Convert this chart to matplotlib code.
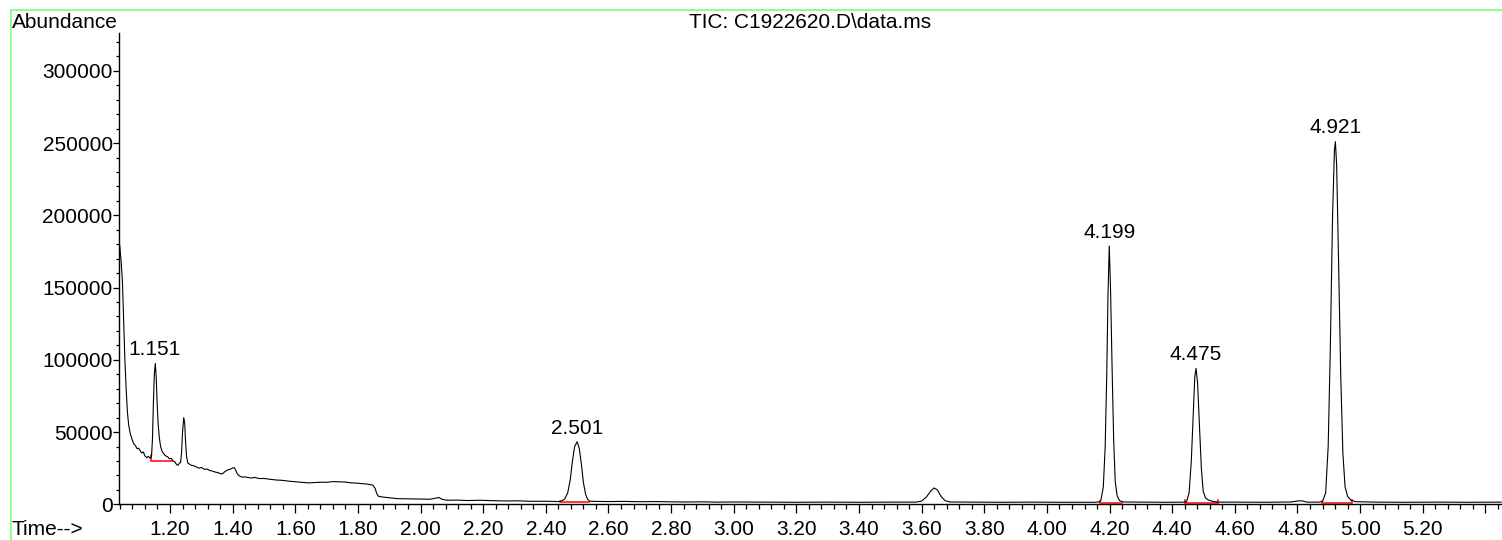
import numpy as np
import matplotlib
matplotlib.use("Agg")
import matplotlib.pyplot as plt
from matplotlib.lines import Line2D
from matplotlib.ticker import MultipleLocator, FixedLocator, FixedFormatter

plt.rcParams['font.family'] = ['Liberation Sans', 'DejaVu Sans']

# --- TIC trace, read segment by segment (time in min, abundance) ---
# solvent tail, 1.151 and the small peak at 1.245, drifting background
t_front = [1.037, 1.040, 1.044, 1.048, 1.052, 1.056, 1.060, 1.064, 1.068, 1.073,
           1.078, 1.084, 1.090, 1.095, 1.100, 1.105, 1.110, 1.115, 1.120, 1.126,
           1.131, 1.137, 1.141, 1.144, 1.147, 1.150, 1.153, 1.156, 1.159, 1.162,
           1.166, 1.170, 1.175, 1.180, 1.186, 1.192, 1.198, 1.204, 1.210, 1.216,
           1.221, 1.226, 1.230, 1.234, 1.237, 1.240, 1.244, 1.247, 1.250, 1.253,
           1.257, 1.262, 1.268, 1.275, 1.284, 1.292, 1.300, 1.310, 1.318, 1.326,
           1.335, 1.345, 1.355, 1.362, 1.369, 1.375, 1.384, 1.392, 1.400, 1.405,
           1.410, 1.415, 1.422, 1.430, 1.440, 1.450, 1.460, 1.470, 1.485, 1.500,
           1.520, 1.540, 1.558, 1.580, 1.600, 1.620, 1.643, 1.660, 1.680, 1.700,
           1.720, 1.738, 1.760, 1.780, 1.800, 1.812, 1.830, 1.848, 1.855, 1.860,
           1.866, 1.880, 1.900, 1.927, 1.960, 2.000, 2.030, 2.050, 2.059, 2.068,
           2.085, 2.120, 2.150, 2.190, 2.230, 2.270, 2.310, 2.350, 2.400, 2.440]
a_front = [183000, 178000, 168000, 155000, 128000, 100000, 80000, 64000, 55000, 49000,
           45500, 42000, 40500, 38500, 38800, 37000, 35500, 36200, 33500, 32300,
           33200, 31800, 33000, 45000, 70000, 90000, 97500, 88000, 70000, 56000,
           46000, 40000, 36500, 35000, 33500, 33000, 31500, 31800, 30000, 29300,
           27500, 27000, 28500, 29000, 36000, 50000, 60000, 56000, 42000, 33000,
           28500, 27800, 27000, 26800, 25900, 25000, 25500, 24200, 24400, 23500,
           23000, 22300, 21800, 21000, 21300, 22600, 23800, 24200, 25200, 25400,
           23500, 21000, 19600, 18800, 19000, 18500, 18200, 18600, 17800, 17900,
           17300, 16800, 16600, 16000, 15600, 15200, 14800, 15000, 15300, 15200,
           15700, 15600, 15400, 14800, 14600, 14300, 14000, 13200, 11000, 7500,
           5500, 5000, 4500, 3900, 3800, 3600, 3500, 4300, 4700, 3500,
           2800, 2900, 2600, 2800, 2500, 2300, 2400, 2100, 2100, 1900]

# 2.501 and the unlabelled bump near 3.64
t_mid = [2.448, 2.460, 2.470, 2.478, 2.485, 2.492, 2.500, 2.507, 2.514, 2.520,
         2.527, 2.533, 2.540, 2.560, 2.600, 2.650, 2.700, 2.750, 2.800, 2.850,
         2.900, 2.950, 3.000, 3.100, 3.200, 3.300, 3.400, 3.500, 3.580, 3.600,
         3.615, 3.630, 3.640, 3.650, 3.662, 3.675, 3.690, 3.750, 3.850, 3.950,
         4.050, 4.150, 4.165]
a_mid = [2100, 3500, 8000, 17000, 30000, 40000, 43300, 38500, 27000, 15000,
         7000, 3500, 2200, 2000, 1900, 2000, 1800, 1900, 1700, 1600,
         1700, 1500, 1600, 1500, 1400, 1500, 1400, 1500, 1500, 2200,
         5000, 9500, 11300, 10000, 5500, 2500, 1600, 1500, 1400, 1500,
         1400, 1400, 1600]

# 4.199, 4.475 and 4.921
t_late = [4.172, 4.180, 4.186, 4.191, 4.195, 4.199, 4.203, 4.208, 4.213, 4.218,
          4.224, 4.232, 4.245, 4.300, 4.380, 4.440,
          4.446, 4.454, 4.461, 4.467, 4.472, 4.476, 4.481, 4.487, 4.493, 4.499,
          4.506, 4.515, 4.530, 4.550, 4.600, 4.700, 4.780, 4.800, 4.815, 4.830,
          4.870,
          4.880, 4.890, 4.898, 4.905, 4.912, 4.918, 4.921, 4.925, 4.931, 4.938,
          4.945, 4.952, 4.960, 4.970, 4.985, 5.050, 5.150, 5.250, 5.350, 5.450]
a_late = [2500, 12000, 40000, 90000, 145000, 178800, 150000, 95000, 45000, 16000,
          6000, 2500, 1600, 1500, 1400, 1500,
          2000, 8000, 30000, 62000, 88000, 94100, 84000, 55000, 25000, 9000,
          4500, 3000, 2000, 1500, 1500, 1400, 1600, 2300, 2400, 1500,
          1500,
          2000, 8000, 40000, 110000, 200000, 245000, 251000, 235000, 170000, 90000,
          35000, 12000, 5500, 3000, 1800, 1500, 1400, 1500, 1400, 1500]

# labelled peaks: retention time, apex abundance
peak_rt = [1.151, 2.501, 4.199, 4.475, 4.921]
peak_top = [97500, 43300, 178800, 94100, 251000]

# integration baselines: start, end, level, height of the start/end marks
base_start = [1.139, 2.446, 4.168, 4.441, 4.877]
base_end = [1.206, 2.537, 4.240, 4.547, 4.975]
base_level = [30200, 1400, 1200, 1200, 1200]
base_mark_l = [3700, 1000, 1000, 1500, 1200]
base_mark_r = [0, 0, 0, 1500, 2000]

time = np.concatenate([t_front, t_mid, t_late])
abund = np.concatenate([a_front, a_mid, a_late])

fig = plt.figure(figsize=(15.02, 5.40), dpi=100)
ax = fig.add_axes([119 / 1502, 35.7 / 540, 1 - 119 / 1502, (504.3 - 33.3) / 540])

for s, e, lv, ml, mr in zip(base_start, base_end, base_level, base_mark_l, base_mark_r):
    ax.plot([s, s, e, e], [lv + ml, lv, lv, lv + mr], color='#ff0000', lw=1.1,
            solid_joinstyle='miter', zorder=2)

ax.plot(time, abund, color='black', lw=0.8, zorder=3)

for rt, top in zip(peak_rt, peak_top):
    ax.annotate(f"{rt:.3f}", (rt, top), xytext=(0, 3), textcoords='offset points',
                ha='center', va='bottom', fontsize=15)

ax.set_xlim(1.0372, 5.453)
ax.set_ylim(0, 326000)

for side in ('top', 'right'):
    ax.spines[side].set_visible(False)
for side in ('left', 'bottom'):
    ax.spines[side].set_linewidth(1.0)

major_x = [1.2 + 0.2 * i for i in range(22)]
xlabels = [f"{v:.2f}" for v in major_x]
xlabels[-1] = ''
ax.xaxis.set_major_locator(FixedLocator(major_x))
ax.xaxis.set_major_formatter(FixedFormatter(xlabels))
ax.xaxis.set_minor_locator(MultipleLocator(0.04))
ax.yaxis.set_major_locator(MultipleLocator(50000))
ax.yaxis.set_minor_locator(MultipleLocator(10000))
ax.yaxis.set_major_formatter(matplotlib.ticker.FuncFormatter(lambda v, p: f"{int(v)}"))

ax.tick_params(axis='x', which='major', direction='out', length=6.5, width=0.9,
               pad=4.5, labelsize=15)
ax.tick_params(axis='x', which='minor', direction='out', length=3.6, width=0.9)
ax.tick_params(axis='y', which='major', direction='out', length=4, width=0.9,
               pad=0.5, labelsize=15)
ax.tick_params(axis='y', which='minor', direction='out', length=2.2, width=0.9)

fig.text(11.7 / 1502, 1 - 28 / 540, "Abundance", fontsize=15, ha='left', va='baseline')
fig.text(810 / 1502, 1 - 28 / 540, "TIC: C1922620.D\\data.ms", fontsize=15,
         ha='center', va='baseline')
fig.text(11.7 / 1502, 1 - 535 / 540, "Time-->", fontsize=15, ha='left', va='baseline')

# light green frame along the top and left edges
fig.add_artist(Line2D([11 / 1502, 1], [1 - 10 / 540, 1 - 10 / 540],
                      transform=fig.transFigure, color='#80ff80', lw=1.3))
fig.add_artist(Line2D([11 / 1502, 11 / 1502], [0, 1 - 10 / 540],
                      transform=fig.transFigure, color='#80ff80', lw=1.3))

fig.savefig("out.png", dpi=100)
